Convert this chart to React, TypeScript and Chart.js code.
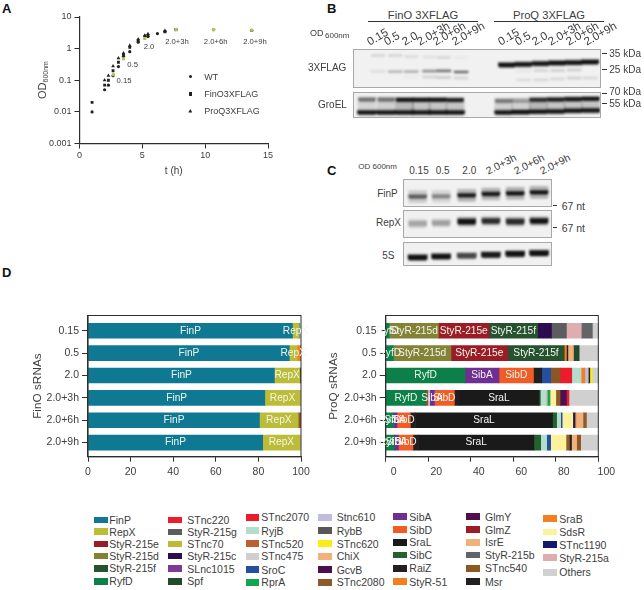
import React, { useEffect, useRef } from "react";
import { Chart, registerables } from "chart.js";

Chart.register(...registerables);

const FONT = '"Liberation Sans", Arial, sans-serif';
const INK = "#3d3d3d";
const AXIS = "#2e2e2e";

// ---------- Panel A: growth curve ----------
const wtT = [1, 2, 2.3, 2.67, 3.1, 3.5, 4, 4.67, 5.2, 5.45, 6.2, 6.8, 7.67, 10.67, 13.7];
const wtOD = [0.01, 0.05, 0.07, 0.14, 0.27, 0.57, 0.8, 1.6, 2.5, 2.4, 3, 3.5, 4, 4, 3.8];
const finOT = [1, 2, 2.3, 2.67, 3.1, 3.5, 4, 4.67, 5.45, 6.8, 7.67, 10.67, 13.7];
const finOOD = [0.02, 0.07, 0.1, 0.2, 0.37, 0.65, 1.1, 1.8, 2.6, 3.4, 4, 4, 3.8];
const proQT = [2, 2.3, 2.67, 3.1, 3.5, 4, 4.67, 5.2, 5.45, 6.8];
const proQOD = [0.1, 0.14, 0.28, 0.5, 0.72, 1.25, 2.0, 2.6, 2.9, 3.7];
const sampleT = [2.7, 3.5, 5.2, 7.67, 10.67, 13.7];
const sampleOD = [0.15, 0.48, 2.1, 4, 4, 3.8];
const growthDecades = [0.001, 0.01, 0.1, 1, 10];
const timeTicks = [0, 5, 10, 15];

// ---------- Panel D: sRNA composition ----------
const odCategories = ["0.15", "0.5", "2.0", "2.0+3h", "2.0+6h", "2.0+9h"];
const axisPercent = [0, 20, 40, 60, 80, 100];

const finO015Names = ["FinP", "RepX", "Spf", "RyjB"];
const finO015Values = [96, 2.9, 0.2, 0.9];
const finO05Names = ["FinP", "RepX", "StyR-51"];
const finO05Values = [94.5, 3.7, 1.8];
const finO20Names = ["FinP", "RepX", "Msr"];
const finO20Values = [87.5, 12, 0.5];
const finO3hNames = ["FinP", "RepX", "Others"];
const finO3hValues = [83, 16.7, 0.3];
const finO6hNames = ["FinP", "RepX", "STnc540"];
const finO6hValues = [80.5, 18.2, 1.3];
const finO9hNames = ["FinP", "RepX", "Others"];
const finO9hValues = [82, 17.6, 0.4];

const proQ015Names = ["RyfD", "StyR-215d", "StyR-215e", "StyR-215f", "StyR-215c", "StyR-215g", "StyR-215a", "StyR-215b", "Others"];
const proQ015Values = [1.6, 23.2, 23.8, 22.9, 6.5, 7, 7, 5.2, 2.8];
const proQ05Names = ["RyfD", "StyR-215d", "StyR-215e", "StyR-215f", "StyR-51", "Msr", "IsrE", "Spf", "Others"];
const proQ05Values = [3.6, 27.1, 26.7, 26.6, 1, 0.7, 2.6, 2.7, 9];
const proQ20Names = ["RyfD", "SibA", "SibD", "RaiZ", "SroC", "STnc540", "STnc220", "RyjB", "StyR-51", "Stnc610", "Msr", "STnc620", "Others"];
const proQ20Values = [37.3, 16, 16.2, 3.9, 4.2, 4.4, 5.5, 4.4, 1.8, 1.6, 0.7, 1.2, 2.8];
const proQ3hNames = ["RyfD", "STnc540", "Stnc610", "SibA", "SibD", "RaiZ", "SraL", "Spf", "RyjB", "StyR-215a", "RprA", "SdsR", "STnc2080", "GlmY", "STnc220", "Others"];
const proQ3hValues = [18.8, 1, 0.9, 2.2, 9.4, 2.2, 37.5, 0.7, 2.7, 0.6, 1.3, 2.7, 2, 3, 1.2, 13.8];
const proQ6hNames = ["RyfD", "SibA", "SibD", "RaiZ", "SraL", "SibC", "RyjB", "SroC", "SdsR", "STnc1190", "SraB", "IsrE", "STnc2080", "Others"];
const proQ6hValues = [3.6, 1.7, 6.3, 2.4, 64.5, 1.9, 1.9, 0.7, 5, 1, 0.5, 3.3, 1.6, 5.6];
const proQ9hNames = ["RyfD", "SibA", "SibD", "RaiZ", "SraL", "SibC", "RyjB", "SroC", "SdsR", "STnc2080", "Msr", "IsrE", "STnc540", "Others"];
const proQ9hValues = [4, 2, 6.8, 2.6, 54.3, 3.2, 2.8, 1.9, 7.2, 1.6, 1, 2.4, 1.9, 8.3];

const finORowNames = [finO015Names, finO05Names, finO20Names, finO3hNames, finO6hNames, finO9hNames];
const finORowValues = [finO015Values, finO05Values, finO20Values, finO3hValues, finO6hValues, finO9hValues];
const proQRowNames = [proQ015Names, proQ05Names, proQ20Names, proQ3hNames, proQ6hNames, proQ9hNames];
const proQRowValues = [proQ015Values, proQ05Values, proQ20Values, proQ3hValues, proQ6hValues, proQ9hValues];
const inBarLabels = ["FinP", "RepX", "StyR-215d", "StyR-215e", "StyR-215f", "RyfD", "SibA", "SibD", "SraL"];

const legendCol1 = ["FinP", "RepX", "StyR-215e", "StyR-215d", "StyR-215f", "RyfD"];
const legendColors1 = ["#0f7892", "#bdbc37", "#9b1c24", "#848234", "#27522f", "#0c8048"];
const legendCol2 = ["STnc220", "StyR-215g", "STnc70", "StyR-215c", "SLnc1015", "Spf"];
const legendColors2 = ["#ec1c2b", "#5d5c5f", "#bcbb33", "#2d0d4f", "#7e3b96", "#234a2b"];
const legendCol3 = ["STnc2070", "RyjB", "STnc520", "STnc475", "SroC", "RprA"];
const legendColors3 = ["#ec1c2b", "#b3ddcd", "#b96130", "#cfcfcf", "#254fa0", "#12a651"];
const legendCol4 = ["Stnc610", "RybB", "STnc620", "ChiX", "GcvB", "STnc2080"];
const legendColors4 = ["#c0bcde", "#58585a", "#f9ed16", "#efb27c", "#4d0e4f", "#8d5b2a"];
const legendCol5 = ["SibA", "SibD", "SraL", "SibC", "RaiZ", "StyR-51"];
const legendColors5 = ["#6f2e91", "#f15c26", "#1a1a1a", "#22622f", "#231f20", "#f47e20"];
const legendCol6 = ["GlmY", "GlmZ", "IsrE", "StyR-215b", "STnc540", "Msr"];
const legendColors6 = ["#4f0e4e", "#9b1c24", "#efb27c", "#636466", "#8d5724", "#231f20"];
const legendCol7 = ["SraB", "SdsR", "STnc1190", "StyR-215a", "Others"];
const legendColors7 = ["#f47e20", "#fdf19b", "#141a6b", "#deadb0", "#d0d0d0"];

const legendNames = [legendCol1, legendCol2, legendCol3, legendCol4, legendCol5, legendCol6, legendCol7];
const legendColors = [legendColors1, legendColors2, legendColors3, legendColors4, legendColors5, legendColors6, legendColors7];
const colorOf = (name: string) => {
  for (let c = 0; c < legendNames.length; c++) {
    const i = legendNames[c].indexOf(name);
    if (i >= 0) return legendColors[c][i];
  }
  return "#999";
};

// ---------- Panels B and C: blots, lanes in gel units ----------
const flagFinOLanes = [24, 41.3, 57.3, 75.7, 90, 107.3];
const flagProQLanes = [153.3, 170, 187.3, 204, 220.7, 236.7];
const flagFinO25Pos = [21.3, 21.6, 21.6, 21.2, 20.8, 22];
const flagFinO25Str = [0.08, 0.25, 0.28, 0.42, 0.55, 0.6];
const flagFinO35Pos = [5.5, 5.5, 6.5, 7, 7.5, 7.5];
const flagFinO35Str = [0.14, 0.14, 0.1, 0.08, 0.12, 0.04];
const flagFinOLowPos = [27, 27, 27, 27, 27.5, 28];
const flagFinOLowStr = [0, 0, 0.04, 0.14, 0.18, 0.14];
const flagProQMainPos = [15, 14.3, 13.7, 13, 12.7, 12];
const flagProQMainStr = [1, 1, 1, 1, 1, 1];
const flagProQMidPos = [21, 21, 20.5, 20.5, 20, 20];
const flagProQMidStr = [0, 0.05, 0.14, 0.16, 0.16, 0];
const flagProQLowPos = [29, 30, 30, 29, 28, 28];
const flagProQLowStr = [0, 0.1, 0.12, 0.12, 0.15, 0.12];

const groFinOLanes = [13, 32.3, 50.7, 67.3, 84, 101.3];
const groProQLanes = [150, 167.3, 184.7, 202.3, 219.7, 237.3];
const groFinOTopPos = [6.7, 6.7, 7, 7, 7, 7.3];
const groFinOTopStr = [0.5, 0.5, 1, 1, 1, 0.9];
const groFinOMidPos = [13, 13, 13, 13, 13, 13];
const groFinOMidStr = [0.12, 0.15, 0.25, 0.2, 0.2, 0.2];
const groFinOLowPos = [20, 20, 20, 20, 20, 20];
const groFinOLowStr = [1, 1, 1, 1, 1, 1];
const groProQTopPos = [8, 7.7, 7, 6.7, 6.3, 6];
const groProQTopStr = [0.45, 0.3, 0.85, 0.95, 0.95, 1];
const groProQMidPos = [13, 13, 12.5, 12.5, 12, 12];
const groProQMidStr = [0.15, 0.15, 0.25, 0.2, 0.2, 0.2];
const groProQLowPos = [20, 19.7, 19.3, 19, 18.3, 18];
const groProQLowStr = [1, 1, 1, 1, 1, 1];

const northLanes = [13.7, 37.3, 63, 87.3, 111.7, 135.7];
const finPPos = [16.7, 16.3, 15.3, 14, 13.3, 12.3];
const finPStr = [0.6, 0.42, 0.95, 0.95, 1, 1];
const repXPos = [12.7, 12, 10.7, 10, 10.7, 10];
const repXStr = [0.28, 0.3, 1, 0.85, 0.85, 1];
const fiveSPos = [14.7, 13.7, 13, 12, 11, 10.3];
const fiveSStr = [1, 1, 0.7, 0.95, 1, 1];

const BAND_COLOR = (a: number) => `rgba(18,18,18,${a})`;

function band(lanes: number[], pos: number[], str: number[], width: number, thick: number, halo = 0) {
  const sets: any[] = [];
  if (halo > 0) {
    sets.push({
      data: lanes.map((x, i) => ({ x, y: [pos[i] - halo / 2, pos[i] + halo / 2] })),
      backgroundColor: str.map((s) => BAND_COLOR(s * 0.28)),
      barThickness: width,
      grouped: false,
      borderRadius: 2,
    });
  }
  sets.push({
    data: lanes.map((x, i) => ({ x, y: [pos[i] - thick / 2, pos[i] + thick / 2] })),
    backgroundColor: str.map((s) => BAND_COLOR(s)),
    barThickness: width,
    grouped: false,
    borderRadius: 2,
  });
  return sets;
}

function gelConfig(w: number, h: number, datasets: any[]) {
  return {
    type: "bar",
    data: { datasets },
    options: {
      animation: false,
      responsive: false,
      layout: { padding: 0 },
      plugins: { legend: { display: false }, tooltip: { enabled: false } },
      scales: {
        x: { type: "linear", min: 0, max: w, display: false, offset: false },
        y: { type: "linear", min: 0, max: h, reverse: true, display: false },
      },
    },
  };
}

// ---------- Chart host ----------
function ChartBox({ left, top, width, height, config, style }: any) {
  const ref = useRef<HTMLCanvasElement>(null);
  useEffect(() => {
    const chart = new Chart(ref.current as HTMLCanvasElement, config);
    return () => chart.destroy();
  }, []);
  return (
    <canvas
      ref={ref}
      width={width}
      height={height}
      style={{ position: "absolute", left, top, width, height, display: "block", ...style }}
    />
  );
}

function Gel({ left, top, width, height, datasets }: any) {
  return (
    <div
      style={{
        position: "absolute",
        left,
        top,
        width,
        height,
        boxSizing: "border-box",
        border: "1px solid #a8a8a8",
        background: "#f1f1f1",
        overflow: "hidden",
      }}
    >
      <ChartBox
        left={0}
        top={0}
        width={width - 2}
        height={height - 2}
        config={gelConfig(width - 2, height - 2, datasets)}
        style={{ filter: "blur(1px)" }}
      />
    </div>
  );
}

function T({ x, y, size = 10, align = "left", bold, rot, color = INK, children }: any) {
  const shift = align === "left" ? "0" : align === "right" ? "-100%" : "-50%";
  return (
    <div
      style={{
        position: "absolute",
        left: x,
        top: y,
        fontFamily: FONT,
        fontSize: size,
        fontWeight: bold ? 700 : 400,
        lineHeight: 1,
        color,
        whiteSpace: "nowrap",
        transformOrigin: rot != null ? "0 100%" : undefined,
        transform: rot != null ? `translate(0,-100%) rotate(${rot}deg)` : `translate(${shift},-50%)`,
      }}
    >
      {children}
    </div>
  );
}

function Line({ x1, x2, y, color = "#333", h = 1 }: any) {
  return <div style={{ position: "absolute", left: x1, top: y, width: x2 - x1, height: h, background: color }} />;
}

// ---------- Chart configs ----------
const frameAxis = (tickLength: number) => ({
  grid: { display: true, drawOnChartArea: false, drawTicks: true, tickLength, color: AXIS, lineWidth: 1, offset: false },
  border: { display: true, color: AXIS, width: 1.2 },
});

const series = (xs: number[], ys: number[], pointStyle: string, pointRadius: number, color: string) => ({
  data: xs.map((x, i) => ({ x, y: ys[i] })),
  pointStyle,
  pointRadius,
  backgroundColor: color,
  borderColor: color,
  borderWidth: 0,
  showLine: false,
});

const growthConfig = {
  type: "scatter",
  data: {
    datasets: [
      series(sampleT, sampleOD, "rect", 2.2, "#b6bf5e"),
      series(proQT, proQOD, "triangle", 2.2, "#222"),
      series(finOT, finOOD, "rect", 2, "#222"),
      series(wtT, wtOD, "circle", 1.6, "#222"),
      series(sampleT, sampleOD, "rect", 1.6, "#b6bf5e"),
    ],
  },
  options: {
    animation: false,
    responsive: false,
    layout: { padding: { left: 0, top: 17, right: 32, bottom: 0 } },
    plugins: { legend: { display: false }, tooltip: { enabled: false } },
    scales: {
      x: {
        type: "linear",
        min: 0,
        max: 15,
        ...frameAxis(5),
        afterBuildTicks: (s: any) => {
          s.ticks = timeTicks.map((value) => ({ value }));
        },
        afterFit: (s: any) => {
          s.height = 41.5;
        },
        ticks: { color: INK, font: { family: FONT, size: 9 }, padding: 2, maxRotation: 0 },
        title: { display: true, text: "t (h)", color: INK, font: { family: FONT, size: 10 }, padding: 8 },
      },
      y: {
        type: "logarithmic",
        min: 0.001,
        max: 10,
        ...frameAxis(5),
        afterBuildTicks: (s: any) => {
          s.ticks = growthDecades.map((value) => ({ value }));
        },
        afterFit: (s: any) => {
          s.width = 79.5;
        },
        ticks: {
          color: INK,
          font: { family: FONT, size: 9 },
          padding: 3,
          callback: (v: number) => String(v),
        },
      },
    },
  },
};

const framePlugin = {
  id: "frame",
  afterDatasetsDraw(chart: any) {
    const { ctx, chartArea: a } = chart;
    ctx.save();
    ctx.strokeStyle = AXIS;
    ctx.lineWidth = 1;
    ctx.strokeRect(a.left, a.top, a.right - a.left, a.bottom - a.top);
    ctx.restore();
  },
};

const barTextPlugin = {
  id: "barText",
  afterDatasetsDraw(chart: any) {
    const { ctx } = chart;
    ctx.save();
    ctx.font = `10.2px ${FONT}`;
    ctx.textAlign = "center";
    ctx.textBaseline = "middle";
    chart.data.datasets.forEach((ds: any, di: number) => {
      chart.getDatasetMeta(di).data.forEach((el: any, row: number) => {
        const name = ds.segmentNames[row];
        if (!name || !inBarLabels.includes(name)) return;
        ctx.fillStyle = "#f1f6ef";
        ctx.fillText(name, (el.x + el.base) / 2, el.y);
      });
    });
    ctx.restore();
  },
};

function stackConfig(rowNames: string[][], rowValues: number[][], title: string, opts: any) {
  const slots = Math.max(...rowNames.map((r) => r.length));
  const datasets = Array.from({ length: slots }, (_, slot) => ({
    data: odCategories.map((_c, row) => ({ x: rowValues[row][slot] ?? 0, y: row })),
    segmentNames: odCategories.map((_c, row) => rowNames[row][slot]),
    backgroundColor: odCategories.map((_c, row) => colorOf(rowNames[row][slot])),
    barThickness: 15,
  }));
  return {
    type: "bar",
    data: { datasets },
    plugins: [framePlugin, barTextPlugin],
    options: {
      animation: false,
      responsive: false,
      indexAxis: "y",
      layout: { padding: { left: 0, top: opts.top, right: opts.right, bottom: 0 } },
      plugins: { legend: { display: false }, tooltip: { enabled: false } },
      scales: {
        x: {
          type: "linear",
          stacked: true,
          min: 0,
          max: 100,
          ...frameAxis(5),
          afterBuildTicks: (s: any) => {
            s.ticks = axisPercent.map((value) => ({ value }));
          },
          afterFit: (s: any) => {
            s.height = opts.bottom;
          },
          ticks: {
            color: INK,
            font: { family: FONT, size: 10.5 },
            padding: 4,
            maxRotation: 0,
            labelOffset: opts.labelOffset,
          },
        },
        y: {
          type: "linear",
          stacked: true,
          reverse: true,
          offset: false,
          min: -0.68,
          max: 5.63,
          ...frameAxis(6),
          afterBuildTicks: (s: any) => {
            s.ticks = odCategories.map((_c, value) => ({ value }));
          },
          afterFit: (s: any) => {
            s.width = opts.left;
          },
          ticks: {
            color: INK,
            font: { family: FONT, size: 10.5 },
            padding: 3,
            callback: (v: number) => odCategories[v],
          },
          title: {
            display: true,
            text: title,
            color: INK,
            font: { family: FONT, size: 11.8 },
            padding: opts.titlePad,
          },
        },
      },
    },
  };
}

const finOConfig = stackConfig(finORowNames, finORowValues, "FinO sRNAs", {
  left: 88,
  top: 15.5,
  right: 19,
  bottom: 33.3,
  labelOffset: 0,
  titlePad: 30.6,
});
const proQConfig = stackConfig(proQRowNames, proQRowValues, "ProQ sRNAs", {
  left: 65.7,
  top: 15.5,
  right: 21.7,
  bottom: 33.3,
  labelOffset: 8,
  titlePad: 6.9,
});

// ---------- Layout tables ----------
const flagBands = [
  ...band(flagFinOLanes, flagFinO35Pos, flagFinO35Str, 13, 2),
  ...band(flagFinOLanes, flagFinOLowPos, flagFinOLowStr, 14, 1.6),
  ...band(flagFinOLanes, flagFinO25Pos, flagFinO25Str, 14, 2),
  ...band(flagProQLanes, flagProQLowPos, flagProQLowStr, 14, 1.6),
  ...band(flagProQLanes, flagProQMidPos, flagProQMidStr, 14, 2),
  ...band(flagProQLanes, flagProQMainPos, flagProQMainStr, 17, 3.6, 6),
];
const groBands = [
  ...band(groFinOLanes, groFinOMidPos, groFinOMidStr, 18, 9),
  ...band(groFinOLanes, groFinOTopPos, groFinOTopStr, 17, 3.5, 5),
  ...band(groFinOLanes, groFinOLowPos, groFinOLowStr, 19, 3.5, 6),
  ...band(groProQLanes, groProQMidPos, groProQMidStr, 18, 9),
  ...band(groProQLanes, groProQTopPos, groProQTopStr, 17, 3.5, 5),
  ...band(groProQLanes, groProQLowPos, groProQLowStr, 18, 3.5, 6),
];
const finPBands = band(northLanes, finPPos, finPStr, 18, 3.6, 12);
const repXBands = band(northLanes, repXPos, repXStr, 18, 5, 9);
const fiveSBands = band(northLanes, fiveSPos, fiveSStr, 19, 5, 7);

const legendSwatchX = [94, 168.3, 245.7, 318.3, 393.3, 466, 543.3];
const legendTextX = [109.3, 187.3, 261.3, 336.7, 409.3, 485, 559.3];
const legendY = [
  [520, 531.7, 544, 556, 568.3, 581.3],
  [520, 532, 544, 556, 568.7, 581.3],
  [517.3, 530.7, 543.7, 556.3, 569.7, 582.3],
  [517.3, 530.7, 543.7, 556.3, 569.7, 582.3],
  [516.7, 529.7, 542.3, 555, 568.3, 581.7],
  [516.7, 529.7, 542.3, 555, 568.3, 581.7],
  [518.7, 532, 544.7, 557.7, 572.3],
];

const bLanesLabels = odCategories;
const bFinOX = [370.7, 388.3, 405.7, 421, 437.3, 455.7];
const bProQX = [502.3, 519, 536, 552.3, 570, 588.3];

export default function App() {
  return (
    <div
      style={{
        position: "absolute",
        left: 0,
        top: 0,
        width: 644,
        height: 590,
        overflow: "hidden",
        background: "#fff",
        filter: "blur(0.3px)",
      }}
    >
      {/* A */}
      <T x={2} y={7.5} size={13} bold color="#111">A</T>
      <ChartBox left={0} top={0} width={300} height={185} config={growthConfig} />
      <div style={{ position: "absolute", left: 42, top: 80, transform: "translate(-50%,-50%) rotate(-90deg)", fontFamily: FONT, fontSize: 11, color: INK, whiteSpace: "nowrap", lineHeight: 1 }}>
        OD<sub style={{ fontSize: 7, verticalAlign: "-2px", lineHeight: 0 }}>600nm</sub>
      </div>
      <T x={124} y={81} size={7.7} align="center">0.15</T>
      <T x={132.7} y={65.3} size={7.7} align="center">0.5</T>
      <T x={149} y={47} size={7.7} align="center">2.0</T>
      <T x={177} y={42} size={7.7} align="center">2.0+3h</T>
      <T x={215.7} y={42} size={7.7} align="center">2.0+6h</T>
      <T x={255} y={42} size={7.7} align="center">2.0+9h</T>
      <div style={{ position: "absolute", left: 188.7, top: 75.2, width: 3, height: 3, borderRadius: 2, background: "#222" }} />
      <div style={{ position: "absolute", left: 188.5, top: 92.2, width: 3.4, height: 3.4, background: "#222" }} />
      <div style={{ position: "absolute", left: 188.3, top: 109, width: 4, height: 3.6, background: "#222", clipPath: "polygon(50% 0,100% 100%,0 100%)" }} />
      <T x={204.3} y={76.7} size={9}>WT</T>
      <T x={204.3} y={94} size={9}>FinO3XFLAG</T>
      <T x={204.3} y={111} size={9}>ProQ3XFLAG</T>

      {/* B */}
      <T x={327} y={7.5} size={13} bold color="#111">B</T>
      <T x={423} y={16} size={11.2} align="center">FinO 3XFLAG</T>
      <T x={549} y={16} size={11.2} align="center">ProQ 3XFLAG</T>
      <Line x1={368.3} x2={478.3} y={21} />
      <Line x1={494} x2={604.3} y={21} />
      <T x={310} y={33} size={9}>OD</T>
      <T x={325} y={36} size={8}>600nm</T>
      {bLanesLabels.map((l, i) => (
        <T key={"bf" + i} x={bFinOX[i]} y={48} size={11.5} rot={-30}>{l}</T>
      ))}
      {bLanesLabels.map((l, i) => (
        <T key={"bp" + i} x={bProQX[i]} y={48} size={11.5} rot={-30}>{l}</T>
      ))}
      <Gel left={352.7} top={49.3} width={248.5} height={39} datasets={flagBands} />
      <Gel left={352.7} top={91.7} width={248.5} height={26.7} datasets={groBands} />
      <T x={308} y={68} size={10}>3XFLAG</T>
      <T x={318} y={105} size={10}>GroEL</T>
      <Line x1={602} x2={606.5} y={53.3} />
      <Line x1={602} x2={606.5} y={69.3} />
      <Line x1={602} x2={606.5} y={93.3} />
      <Line x1={602} x2={606.5} y={103.3} />
      <T x={609.3} y={54} size={10}>35 kDa</T>
      <T x={609.3} y={69.7} size={10}>25 kDa</T>
      <T x={609.3} y={92.3} size={10}>70 kDa</T>
      <T x={609.3} y={104} size={10}>55 kDa</T>

      {/* C */}
      <T x={327} y={170} size={13} bold color="#111">C</T>
      <T x={358.3} y={167} size={8}>OD 600nm</T>
      <T x={419} y={171} size={10} align="center">0.15</T>
      <T x={442.7} y={171} size={10} align="center">0.5</T>
      <T x={469.3} y={171} size={10} align="center">2.0</T>
      <T x={489} y={176} size={10.5} rot={-27}>2.0+3h</T>
      <T x={516.7} y={176} size={10.5} rot={-27}>2.0+6h</T>
      <T x={543.3} y={176} size={10.5} rot={-27}>2.0+9h</T>
      <Gel left={402.7} top={178.7} width={149.7} height={28} datasets={finPBands} />
      <Gel left={402.7} top={210} width={149.7} height={28} datasets={repXBands} />
      <Gel left={402.7} top={241.7} width={149.7} height={24.3} datasets={fiveSBands} />
      <T x={397.7} y={194.3} size={10} align="right">FinP</T>
      <T x={401} y={222.7} size={10} align="right">RepX</T>
      <T x={388.3} y={256} size={10} align="center">5S</T>
      <Line x1={552.5} x2={557} y={205.3} />
      <Line x1={552.5} x2={557} y={227.3} />
      <T x={561.7} y={205.7} size={10.5}>67 nt</T>
      <T x={561.7} y={227.8} size={10.5}>67 nt</T>

      {/* D */}
      <T x={2} y={272} size={13} bold color="#111">D</T>
      <ChartBox left={0} top={300} width={320} height={190} config={finOConfig} />
      <ChartBox left={320} top={300} width={300} height={190} config={proQConfig} />

      {/* sRNA key */}
      {legendNames.map((col, c) =>
        col.map((name, i) => (
          <React.Fragment key={name}>
            <div
              style={{
                position: "absolute",
                left: legendSwatchX[c],
                top: legendY[c][i] - 3.4,
                width: 13.6,
                height: 6.8,
                background: legendColors[c][i],
              }}
            />
            <T x={legendTextX[c]} y={legendY[c][i]} size={10.5}>{name}</T>
          </React.Fragment>
        ))
      )}
    </div>
  );
}
